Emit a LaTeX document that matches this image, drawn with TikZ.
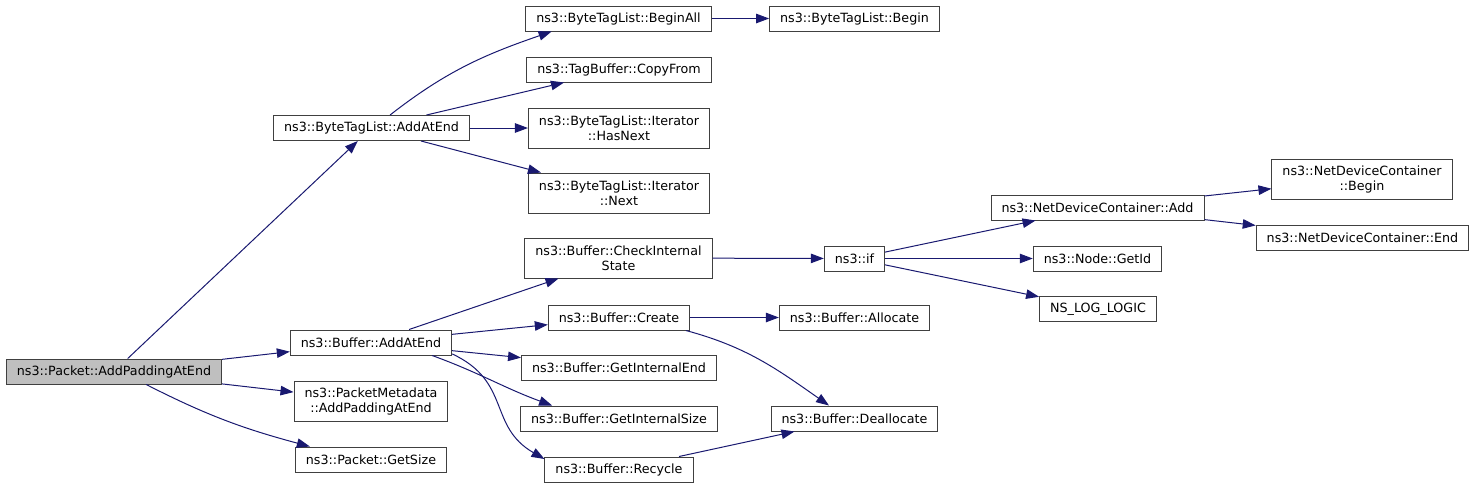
\documentclass[tikz,border=0pt]{standalone}
\usepackage{fontspec}
\setmainfont{DejaVu Sans}
\usepackage{xcolor}
\usetikzlibrary{arrows.meta}
\definecolor{callblue}{HTML}{191970}
\definecolor{boxgray}{HTML}{404040}
\definecolor{rootfill}{HTML}{BFBFBF}

\begin{document}
\begin{tikzpicture}[
  x=1pt, y=1pt,
  >={Triangle[length=13pt,width=9.5pt]},
  fn/.style={draw=boxgray, fill=white, line width=1pt, align=center, inner xsep=10.5pt, inner ysep=2pt,
    minimum height=25pt, font=\fontsize{12.7}{15}\selectfont},
  fntwo/.style={fn, minimum height=40pt},
  root/.style={fn, fill=rootfill},
  call/.style={->, draw=callblue, line width=1pt}
]
  \useasboundingbox (0,0) rectangle (1476,-488);

  \node[root] (pkt) at (114,-371.5) {ns3::Packet::AddPaddingAtEnd};

  \node[fn] (btl) at (371.5,-128) {ns3::ByteTagList::AddAtEnd};
  \node[fn] (bufadd) at (371,-342.5) {ns3::Buffer::AddAtEnd};
  \node[fntwo] (meta) at (371,-401) {ns3::PacketMetadata\\::AddPaddingAtEnd};
  \node[fn] (getsize) at (371,-459.5) {ns3::Packet::GetSize};

  \node[fn] (beginall) at (618.5,-18.5) {ns3::ByteTagList::BeginAll};
  \node[fn] (tlbegin) at (854.5,-18.5) {ns3::ByteTagList::Begin};
  \node[fn] (copyfrom) at (619,-69.5) {ns3::TagBuffer::CopyFrom};
  \node[fntwo] (hasnext) at (619,-128) {ns3::ByteTagList::Iterator\\::HasNext};
  \node[fntwo] (itnext) at (619,-193) {ns3::ByteTagList::Iterator\\::Next};

  \node[fntwo] (check) at (618.5,-258) {ns3::Buffer::CheckInternal\\State};
  \node[fn] (create) at (619,-317.5) {ns3::Buffer::Create};
  \node[fn] (intend) at (619,-367.5) {ns3::Buffer::GetInternalEnd};
  \node[fn] (intsize) at (619,-418.5) {ns3::Buffer::GetInternalSize};
  \node[fn] (recycle) at (619,-469.5) {ns3::Buffer::Recycle};

  \node[fn] (nsif) at (854.5,-258.5) {ns3::if};
  \node[fn] (alloc) at (854.5,-317.5) {ns3::Buffer::Allocate};
  \node[fn] (dealloc) at (854.5,-418.5) {ns3::Buffer::Deallocate};

  \node[fn] (ndcadd) at (1097.5,-207.5) {ns3::NetDeviceContainer::Add};
  \node[fn] (getid) at (1097.5,-258.5) {ns3::Node::GetId};
  \node[fn] (nslog) at (1098,-309) {NS\_LOG\_LOGIC};
  \node[fntwo] (ndcbegin) at (1362,-179) {ns3::NetDeviceContainer\\::Begin};
  \node[fn] (ndcend) at (1362.5,-237.5) {ns3::NetDeviceContainer::End};

  % calls from the root
  \draw[call] (pkt) -- (btl);
  \draw[call] (pkt) -- (bufadd);
  \draw[call] (pkt) -- (meta);
  \draw[call] (pkt.-22) to[out=-27,in=165] (getsize.168);

  % ByteTagList::AddAtEnd
  \draw[call] (btl.35) to[out=38,in=199] (beginall.191);
  \draw[call] (btl) -- (copyfrom);
  \draw[call] (btl) -- (hasnext);
  \draw[call] (btl) -- (itnext);
  \draw[call] (beginall) -- (tlbegin);

  % Buffer::AddAtEnd
  \draw[call] (bufadd) -- (check);
  \draw[call] (bufadd) -- (create);
  \draw[call] (bufadd) -- (intend);
  \draw[call] (bufadd.-12) to[out=-20,in=160] (intsize.169);
  \draw[call] (bufadd.-8) to[out=-25,in=150,looseness=1.2] (recycle.172);

  \draw[call] (check) -- (nsif);
  \draw[call] (nsif) -- (ndcadd);
  \draw[call] (nsif) -- (getid);
  \draw[call] (nsif) -- (nslog);
  \draw[call] (ndcadd) -- (ndcbegin);
  \draw[call] (ndcadd) -- (ndcend);

  \draw[call] (create) -- (alloc);
  \draw[call] (create.-11) to[out=-15,in=145] (dealloc.153);
  \draw[call] (recycle) -- (dealloc);
\end{tikzpicture}
\end{document}
